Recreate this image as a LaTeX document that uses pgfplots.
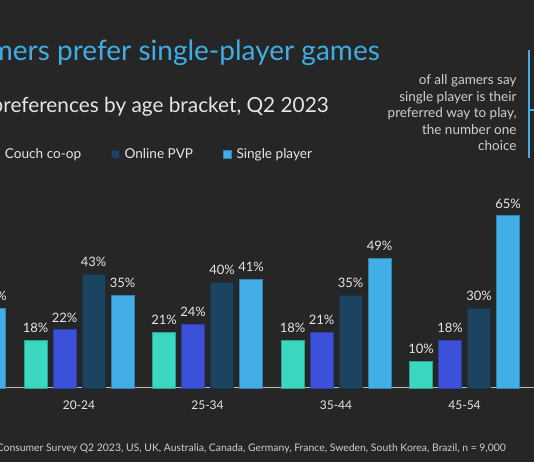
\documentclass[border=0pt]{standalone}
\usepackage{fontspec}
\setmainfont{Lato}
\usepackage{pgfplots}
\pgfplotsset{compat=1.18}

\definecolor{bg}{HTML}{262626}
\definecolor{cteal}{HTML}{3AD8C0}
\definecolor{cblue}{HTML}{3B51DA}
\definecolor{cnavy}{HTML}{1A4460}
\definecolor{clight}{HTML}{41AEE7}
\definecolor{ctitle}{HTML}{3FADE5}
\definecolor{ctext}{HTML}{E6E6E6}
\definecolor{caxis}{HTML}{BDBDBD}

\newcommand{\fs}[1]{\fontsize{#1}{#1}\selectfont}

\begin{document}
\begin{tikzpicture}
\useasboundingbox (0,0) rectangle (534pt,462pt);
\clip (0,0) rectangle (534pt,462pt);
\fill[bg] (0,0) rectangle (534pt,462pt);

\begin{axis}[
    at={(0pt,74pt)}, anchor=south west,
    scale only axis,
    width=534pt, height=265pt,
    xmin=0.3852, xmax=4.5408,
    ymin=0, ymax=100,
    clip=false,
    ybar=6pt, bar width=23pt,
    axis x line=bottom, axis y line=none,
    x axis line style={-, draw=caxis, line width=1pt},
    ytick=\empty,
    xtick={1,2,3,4},
    xticklabels={20-24,25-34,35-44,45-54},
    major tick length=0pt,
    xticklabel style={font=\fs{12}, text=ctext, anchor=base, yshift=-21.5pt},
    /pgf/number format/assume math mode=true,
    nodes near coords={\pgfmathprintnumber{\pgfplotspointmeta}\%},
    every node near coord/.append style={font=\fs{13}, text=ctext, anchor=base, yshift=7.5pt, inner sep=0pt},
    legend columns=-1,
    legend image code/.code={\draw[#1, line width=0.4pt] (0pt,-4pt) rectangle (8pt,4pt);},
    legend style={draw=none, fill=none, text=ctext, font=\fs{13.6},
        at={(axis description cs:0.5843,0.883)}, anchor=east,
        inner sep=0pt, outer sep=0pt, nodes={inner sep=0pt},
        /tikz/every odd column/.append style={column sep=5pt},
        /tikz/every even column/.append style={column sep=30pt}},
]
\addplot[fill=cteal, draw=cteal!75!black, line width=0.5pt] coordinates {(1,18) (2,21) (3,18) (4,10)};
\addplot[fill=cblue, draw=cblue!75!black, line width=0.5pt] coordinates {(1,22) (2,24) (3,21) (4,18)};
\addplot[fill=cnavy, draw=cnavy!75!black, line width=0.5pt] coordinates {(1,43) (2,40) (3,35) (4,30)};
\addplot[fill=clight, draw=clight!75!black, line width=0.5pt] coordinates {(0,30) (1,35) (2,41) (3,49) (4,65)};
\legend{Online co-op, Couch co-op, Online PVP, Single player}
\end{axis}

% titles
\node[anchor=base east, inner sep=0pt, text=ctitle, font=\fs{28}] at (380pt,401.4pt) {Gamers prefer single-player games};
\node[anchor=base east, inner sep=0pt, text=ctext, font=\fs{20.8}] at (329pt,349pt) {Gaming preferences by age bracket, Q2 2023};

% callout
\foreach \t/\y in {{of all gamers say}/377, {single player is their}/360.5, {preferred way to play,}/344, {the number one}/327.5, {choice}/311}
  \node[anchor=base east, inner sep=0pt, text=ctext!90!black, font=\fs{13.5}] at (516.7pt,\y pt) {\t};
\draw[ctitle, line width=1.2pt] (529pt,412pt) -- (529pt,304pt);
\draw[ctitle, line width=1.2pt] (529pt,352pt) -- (534pt,352pt);

% source
\node[anchor=base east, inner sep=0pt, text=ctext!90!black, font=\fs{10.4}] at (506pt,11pt) {Source: MIDiA Research Consumer Survey Q2 2023, US, UK, Australia, Canada, Germany, France, Sweden, South Korea, Brazil, n = 9,000};
\end{tikzpicture}
\end{document}
